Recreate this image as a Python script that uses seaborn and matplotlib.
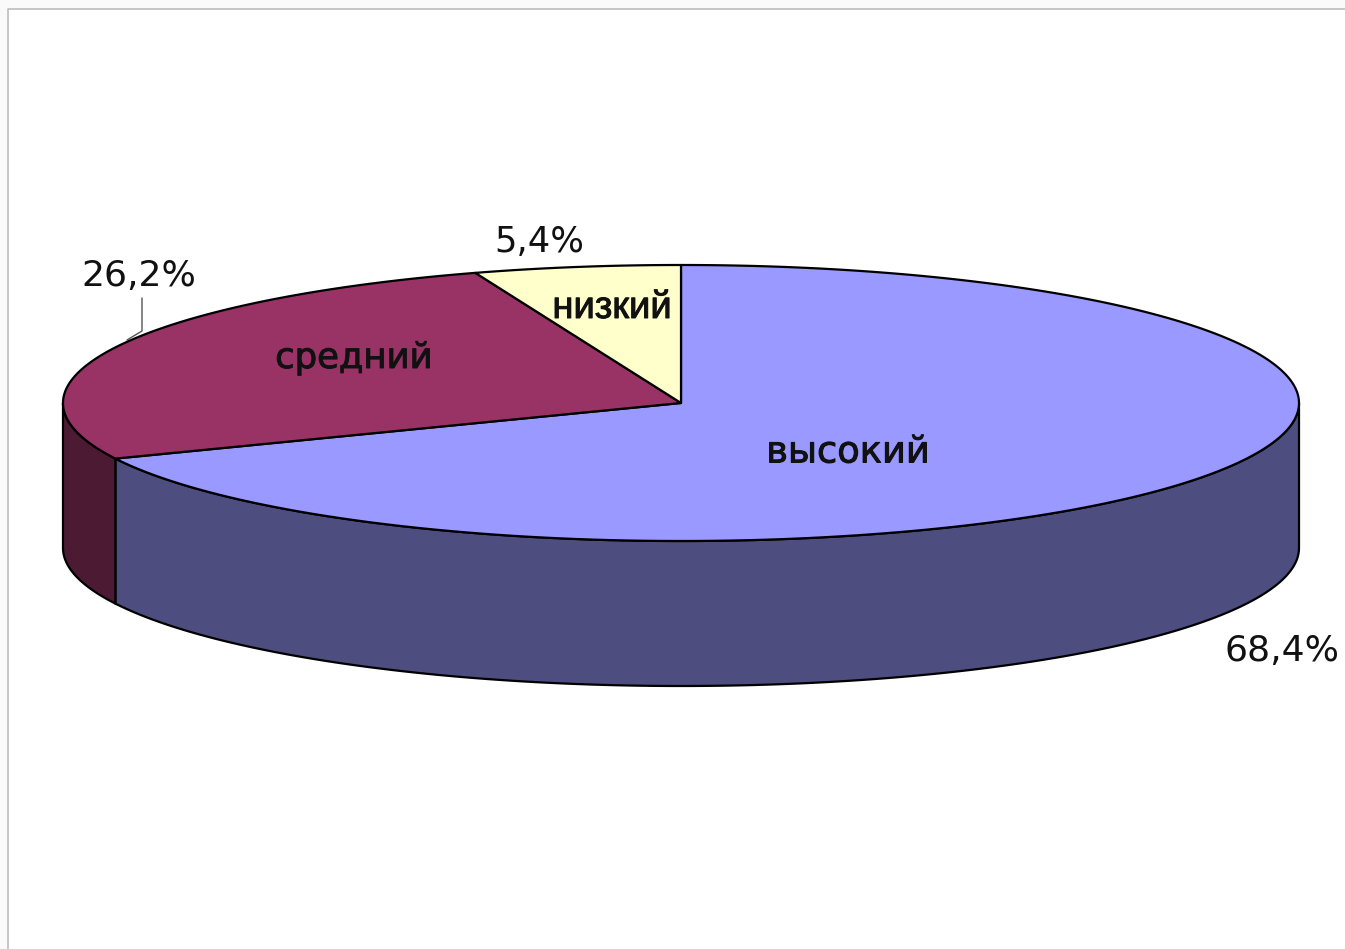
import numpy as np
import matplotlib
matplotlib.use('Agg')
import matplotlib.pyplot as plt
import matplotlib.patheffects as pe
import seaborn as sns

# Data
categories = ['высокий', 'средний', 'низкий']
shares = [68.4, 26.2, 5.4]
share_labels = ['68,4%', '26,2%', '5,4%']
top_colors = ['#9999FF', '#993366', '#FFFFCC']
side_colors = ['#4D4D7F', '#4D1A33', '#7F7F66']

sns.set_theme(style='white')
plt.rcParams['font.family'] = ['DejaVu Sans']
palette = sns.color_palette(top_colors)
side_palette = sns.color_palette(side_colors)

# pie geometry in pixels
cx, cy = 681, 403
rx, ry = 618, 138
depth = 145


def ell(a):
    a = np.radians(a)
    return cx + rx * np.cos(a), cy - ry * np.sin(a)


fig = plt.figure(figsize=(13.45, 9.49), dpi=100, facecolor='#FAFAFA')
ax = fig.add_axes([0, 0, 1, 1])
ax.set_xlim(0, 1345)
ax.set_ylim(949, 0)
ax.axis('off')

# white panel with the thin grey frame on the top and left
ax.fill([7.5, 1345, 1345, 7.5], [8.5, 8.5, 949, 949], color='white', lw=0, zorder=0)
ax.plot([7.5, 7.5, 1345], [949, 8.5, 8.5], color='#BDBDBD', lw=1.2, zorder=1)

# slices run clockwise from 12 o'clock
angles = 90 - np.cumsum([0] + shares) * 3.6

# side walls first, only the front half of the ellipse shows
for i in range(len(shares)):
    lo = max(angles[i + 1], -180)
    hi = min(angles[i], 0)
    if hi <= lo:
        continue
    x, y = ell(np.linspace(lo, hi, 200))
    ax.fill(np.r_[x, x[::-1]], np.r_[y, y[::-1] + depth], facecolor=side_palette[i],
            edgecolor='black', lw=1.6, zorder=2)

# top faces
for i in range(len(shares)):
    x, y = ell(np.linspace(angles[i], angles[i + 1], 300))
    ax.fill(np.r_[cx, x], np.r_[cy, y], facecolor=palette[i], edgecolor='black',
            lw=1.6, joinstyle='round', zorder=3)

# category names on the slices, strokes thickened a little
heavy = [pe.withStroke(linewidth=0.7, foreground='#111111')]
ax.text(848, 452, categories[0], fontsize=26.5, color='#111111', ha='center', va='center',
        path_effects=heavy, zorder=4)
ax.text(354, 358, categories[1], fontsize=25.5, color='#111111', ha='center', va='center',
        path_effects=heavy, zorder=4)
ax.text(612, 308, categories[2], fontsize=27.5, family='Liberation Sans', color='#111111',
        ha='center', va='center', path_effects=heavy, zorder=4)

# percentages outside
ax.text(1282, 651, share_labels[0], fontsize=26, color='#111111', ha='center', va='center', zorder=4)
ax.text(139, 276, share_labels[1], fontsize=26, color='#111111', ha='center', va='center', zorder=4)
ax.text(539, 242, share_labels[2], fontsize=25.5, color='#111111', ha='center', va='center', zorder=4)

# leader line for the 26,2% label
ax.plot([142, 142, 127], [298, 331, 340], color='#555555', lw=1, zorder=2.5)

fig.savefig('out.png', dpi=100, facecolor=fig.get_facecolor())
